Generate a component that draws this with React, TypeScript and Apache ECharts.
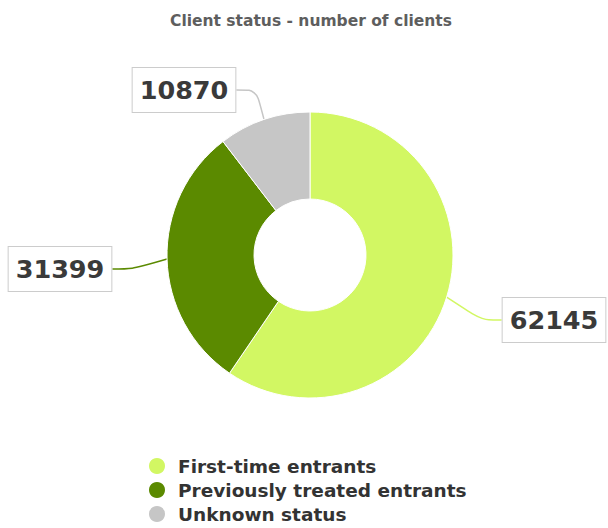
import React, { useEffect, useRef } from "react";
import * as echarts from "echarts";

const categories = ["First-time entrants", "Previously treated entrants", "Unknown status"];
const values = [62145, 31399, 10870];
const colors = ["#d2f763", "#5b8a00", "#c6c6c6"];
const labelCenters = [
  [554, 320],
  [60, 269],
  [184, 90],
];

export default function App() {
  const ref = useRef<HTMLDivElement>(null);
  useEffect(() => {
    const chart = echarts.init(ref.current!, null, { renderer: "svg" });
    chart.setOption({
      animation: false,
      backgroundColor: "#fff",
      title: {
        text: "Client status - number of clients",
        left: 306,
        textAlign: "center",
        top: 8,
        textStyle: { fontFamily: "DejaVu Sans", fontSize: 15.5, fontWeight: "bold", color: "#5e5e5e" },
      },
      legend: {
        orient: "vertical",
        left: 147,
        top: 456,
        padding: 0,
        height: 75,
        icon: "circle",
        itemWidth: 18,
        itemHeight: 18,
        itemGap: 4,
        data: categories,
        textStyle: {
          fontFamily: "DejaVu Sans",
          fontSize: 18.5,
          lineHeight: 18,
          fontWeight: "bold",
          color: "#333",
          padding: [0, 0, 0, 7],
        },
      },
      series: [
        {
          type: "pie",
          center: [310, 255],
          radius: [56, 143],
          startAngle: 90,
          clockwise: true,
          data: categories.map((c, i) => ({ name: c, value: values[i], itemStyle: { color: colors[i] } })),
          itemStyle: { borderColor: "#fff", borderWidth: 1 },
          label: {
            show: true,
            formatter: "{c}",
            fontFamily: "DejaVu Sans",
            fontSize: 25.5,
            fontWeight: "bold",
            color: "#3a3a3a",
            backgroundColor: "#fff",
            borderColor: "#cccccc",
            borderWidth: 1,
            padding: [10, 7, 8, 7],
          },
          labelLine: { show: true, length: 20, length2: 20, smooth: 0.3, lineStyle: { width: 1.5 } },
          labelLayout: (p: any) => ({
            x: labelCenters[p.dataIndex][0],
            y: labelCenters[p.dataIndex][1],
            align: "center",
            verticalAlign: "middle",
          }),
        },
      ],
    });
    return () => chart.dispose();
  }, []);
  return <div ref={ref} style={{ position: "fixed", left: 0, top: 0, width: 608, height: 528 }} />;
}
